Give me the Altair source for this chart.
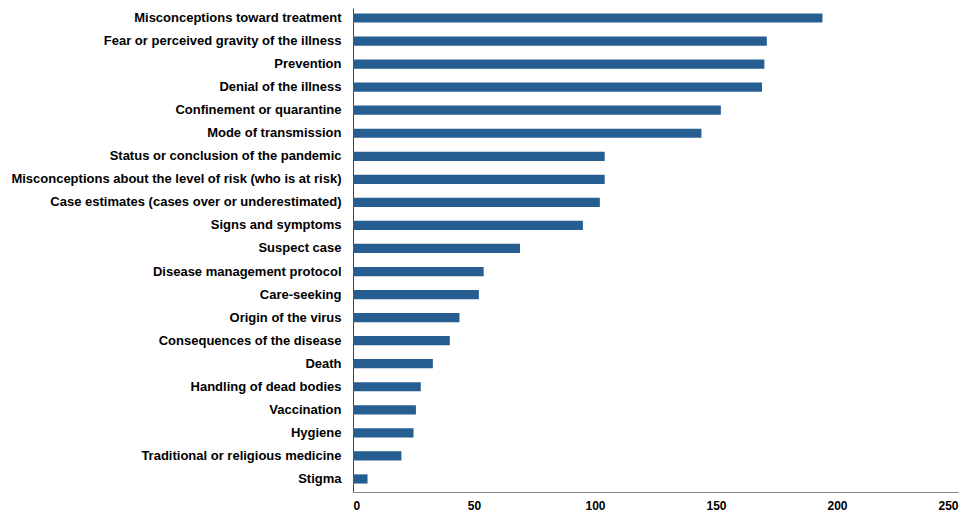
import altair as alt
import pandas as pd

categories = [
    "Misconceptions toward treatment",
    "Fear or perceived gravity of the illness",
    "Prevention",
    "Denial of the illness",
    "Confinement or quarantine",
    "Mode of transmission",
    "Status or conclusion of the pandemic",
    "Misconceptions about the level of risk (who is at risk)",
    "Case estimates (cases over or underestimated)",
    "Signs and symptoms",
    "Suspect case",
    "Disease management protocol",
    "Care-seeking",
    "Origin of the virus",
    "Consequences of the disease",
    "Death",
    "Handling of dead bodies",
    "Vaccination",
    "Hygiene",
    "Traditional or religious medicine",
    "Stigma",
]
values = [194, 171, 170, 169, 152, 144, 104, 104, 102, 95, 69, 54, 52, 44, 40, 33, 28, 26, 25, 20, 6]
x_ticks = [0, 50, 100, 150, 200, 250]

df = pd.DataFrame({"category": categories, "value": values})

font = "Liberation Sans"

chart = (
    alt.Chart(df)
    .mark_bar(color="#265E92")
    .encode(
        x=alt.X(
            "value:Q",
            scale=alt.Scale(domain=[0, 250], nice=False),
            axis=alt.Axis(
                values=x_ticks,
                title=None,
                grid=False,
                ticks=False,
                tickSize=0,
                domainColor="#8a8a8a",
                domainWidth=1,
                labelFont=font,
                labelFontWeight="bold",
                labelFontSize=12,
                labelColor="#000000",
                labelPadding=8,
            ),
        ),
        y=alt.Y(
            "category:N",
            sort=categories,
            scale=alt.Scale(paddingInner=0.6, paddingOuter=0.3, align=0.39),
            axis=alt.Axis(
                title=None,
                ticks=False,
                tickSize=0,
                domainColor="#444444",
                domainWidth=1,
                labelFont=font,
                labelFontWeight="bold",
                labelFontSize=13,
                labelColor="#000000",
                labelPadding=12,
                labelLimit=400,
            ),
        ),
    )
    .properties(
        width=605,
        height=484,
        autosize=alt.AutoSizeParams(type="none"),
        padding={"left": 345, "top": 0, "right": 4, "bottom": 21},
    )
    .configure_view(stroke=None)
)

chart.save("out.html", embed_options={"renderer": "svg", "actions": False})
